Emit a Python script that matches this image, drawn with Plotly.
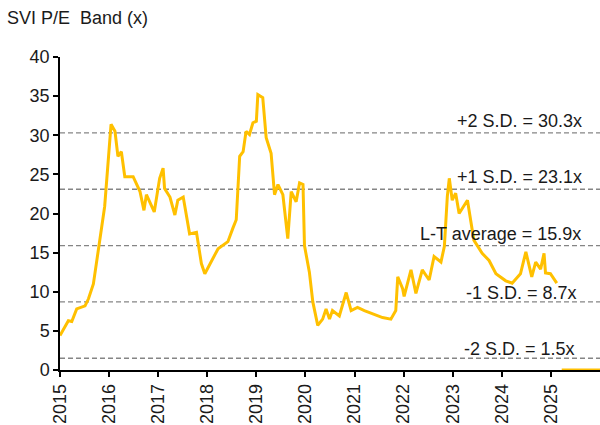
import plotly.graph_objects as go

# P/E series (decimal year, multiple)
years = [2015.00, 2015.17, 2015.24, 2015.34, 2015.51, 2015.58, 2015.68, 2015.78, 2015.85, 2015.91,
         2015.98, 2016.04, 2016.12, 2016.18, 2016.25, 2016.32, 2016.49, 2016.63, 2016.71, 2016.76,
         2016.92, 2016.97, 2017.03, 2017.10, 2017.13, 2017.24, 2017.34, 2017.40, 2017.51, 2017.64,
         2017.78, 2017.88, 2017.95, 2018.22, 2018.42, 2018.52, 2018.59, 2018.66, 2018.73, 2018.79,
         2018.86, 2018.93, 2019.00, 2019.03, 2019.13, 2019.20, 2019.30, 2019.37, 2019.44, 2019.54,
         2019.64, 2019.71, 2019.81, 2019.88, 2019.95, 2019.98, 2020.08, 2020.15, 2020.25, 2020.35,
         2020.42, 2020.49, 2020.55, 2020.69, 2020.83, 2020.93, 2021.06, 2021.20, 2021.37, 2021.57,
         2021.74, 2021.84, 2021.88, 2021.98, 2022.01, 2022.15, 2022.25, 2022.38, 2022.52, 2022.62,
         2022.76, 2022.83, 2022.89, 2022.93, 2022.99, 2023.06, 2023.13, 2023.30, 2023.43, 2023.60,
         2023.74, 2023.88, 2024.08, 2024.21, 2024.38, 2024.49, 2024.61, 2024.69, 2024.79, 2024.86,
         2024.89, 2024.99, 2025.12]
pe = [4.4, 6.3, 6.2, 7.8, 8.2, 9.1, 11.0, 15.7, 18.3, 20.9,
      27.3, 31.4, 30.5, 27.3, 27.9, 24.7, 24.7, 22.8, 20.4, 22.4,
      20.2, 22.1, 24.5, 25.8, 23.2, 22.1, 19.8, 21.7, 22.1, 17.4,
      17.6, 13.6, 12.3, 15.5, 16.4, 18.1, 19.2, 27.3, 27.9, 30.5,
      30.1, 31.6, 31.8, 35.2, 34.8, 29.7, 27.7, 22.4, 23.7, 22.4,
      16.8, 22.8, 21.5, 23.9, 23.7, 15.9, 12.5, 8.7, 5.7, 6.5,
      7.8, 6.5, 7.6, 6.9, 9.9, 7.6, 8.0, 7.6, 7.2, 6.7,
      6.5, 7.6, 11.9, 10.4, 9.4, 12.8, 9.8, 12.8, 11.5, 14.5,
      13.8, 15.8, 22.2, 24.5, 21.7, 22.6, 20.0, 21.7, 16.6, 14.9,
      14.0, 12.3, 11.4, 11.1, 12.3, 15.1, 11.9, 13.8, 12.9, 14.9,
      12.4, 12.3, 11.1]

# trailing empty period plotted at zero
tail_years = [2025.22, 2026.0]
tail_values = [0, 0]

# band levels
band_labels = ["+2 S.D. = 30.3x", "+1 S.D. = 23.1x", "L-T average = 15.9x",
               "-1 S.D. = 8.7x", "-2 S.D. = 1.5x"]
band_values = [30.3, 23.1, 15.9, 8.7, 1.5]

tick_years = list(range(2015, 2026))
tick_text = [str(y) for y in tick_years]

x_min, x_max = 2015.0, 2026.0
gold = "#FFC000"
font = "Liberation Sans, Arial, sans-serif"
txt = "#1a1a1a"

# label placement (layout only)
label_x = [2024.37, 2024.37, 2025.65, 2024.41, 2024.37]
label_anchor = ["center", "center", "right", "center", "center"]
label_shift = [0, 0, 0, -3, -3]

fig = go.Figure()
for v in band_values:
    fig.add_trace(go.Scatter(x=[x_min, x_max], y=[v, v], mode="lines",
                             line=dict(color="#858585", width=1.3, dash="5px,3px"),
                             hoverinfo="skip", showlegend=False, cliponaxis=False))
fig.add_trace(go.Scatter(x=years, y=pe, mode="lines",
                         line=dict(color=gold, width=3), showlegend=False))
fig.add_trace(go.Scatter(x=tail_years, y=tail_values, mode="lines",
                         line=dict(color=gold, width=3), showlegend=False, cliponaxis=False))

for lab, v, lx, la, ls in zip(band_labels, band_values, label_x, label_anchor, label_shift):
    fig.add_annotation(x=lx, y=v, text=lab, showarrow=False, xanchor=la,
                       yanchor="bottom", yshift=ls,
                       font=dict(family=font, size=18, color=txt))

fig.update_layout(
    width=600, height=425,
    margin=dict(l=60, r=0, t=57, b=55),
    paper_bgcolor="white", plot_bgcolor="white",
    font=dict(family=font, size=18, color=txt),
    showlegend=False,
    title=dict(text="SVI P/E  Band (x)", x=7 / 600, xanchor="left", xref="container",
               y=1 - 18 / 425, yanchor="middle", yref="container",
               font=dict(family=font, size=18, color=txt)),
)
fig.update_xaxes(range=[x_min, x_max], tickmode="array", tickvals=tick_years,
                 ticktext=tick_text, tickangle=-90, showgrid=False, zeroline=False,
                 showline=True, linecolor="black", linewidth=1.5,
                 ticks="outside", ticklen=5, tickcolor="black", tickwidth=1.5,
                 tickfont=dict(size=18))
fig.update_yaxes(range=[0, 40], tickmode="array", tickvals=[0, 5, 10, 15, 20, 25, 30, 35, 40],
                 showgrid=False, zeroline=False, showline=True, linecolor="black",
                 linewidth=1.5, ticks="outside", ticklen=5, tickcolor="black", tickwidth=1.5,
                 tickfont=dict(size=18))

fig.write_html("out.html", config={"displayModeBar": False},
               post_script="document.body.style.margin='0';")
